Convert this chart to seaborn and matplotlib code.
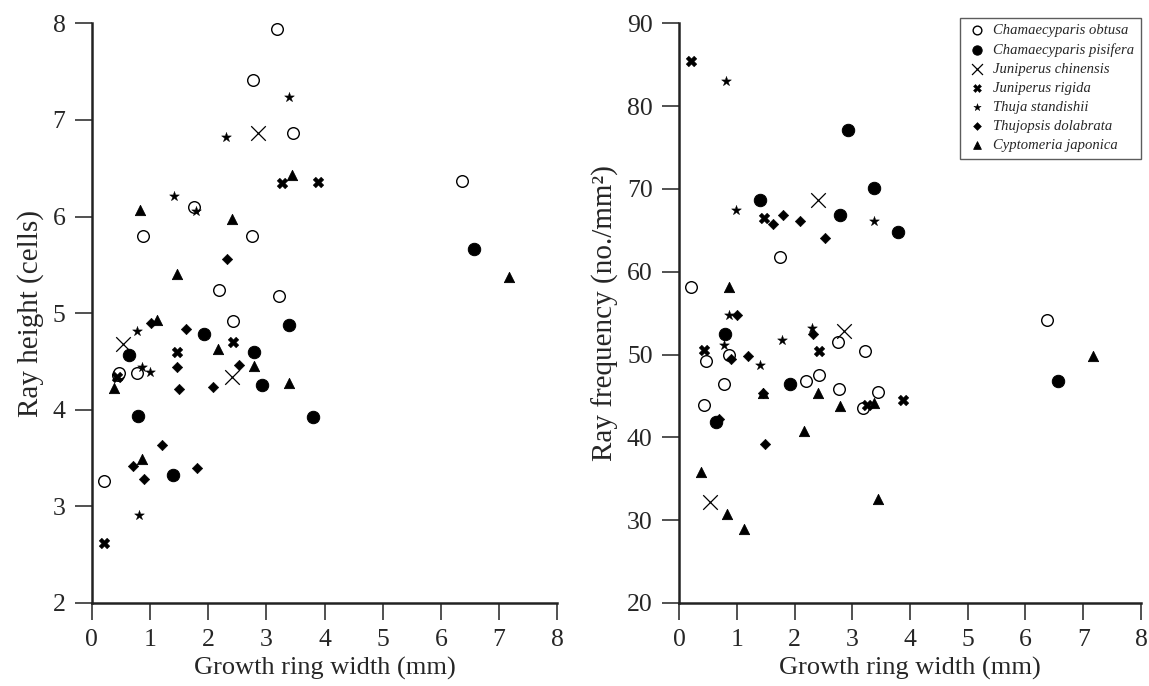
import pandas as pd
import seaborn as sns
import matplotlib.pyplot as plt

# Ray height / ray frequency vs growth ring width, by species
obtusa_width = [0.20, 0.44, 0.47, 0.78, 0.87, 1.75, 2.19, 2.42, 2.76, 2.77, 3.18, 3.22, 3.45, 6.37]
obtusa_height = [3.26, 4.36, 4.38, 4.38, 5.80, 6.10, 5.24, 4.92, 5.80, 7.41, 7.94, 5.18, 6.86, 6.37]
obtusa_freq = [58.2, 43.9, 49.2, 46.5, 50.0, 61.8, 46.8, 47.5, 51.5, 45.8, 43.6, 50.4, 45.5, 54.2]

pisifera_width = [0.64, 0.80, 1.40, 1.92, 2.78, 2.93, 3.38, 3.80, 6.57]
pisifera_height = [4.57, 3.94, 3.32, 4.78, 4.60, 4.26, 4.88, 3.92, 5.66]
pisifera_freq = [41.9, 52.5, 68.7, 46.5, 66.8, 77.1, 70.1, 64.8, 46.8]

chinensis_width = [0.54, 2.41, 2.86]
chinensis_height = [4.68, 4.34, 6.86]
chinensis_freq = [32.2, 68.7, 52.8]

rigida_width = [0.21, 0.43, 1.47, 2.43, 3.26, 3.88]
rigida_height = [2.62, 4.34, 4.60, 4.70, 6.35, 6.36]
rigida_freq = [85.4, 50.5, 66.5, 50.4, 43.9, 44.5]

standishii_width = [0.77, 0.81, 0.86, 0.99, 1.41, 1.79, 2.30, 3.38]
standishii_height = [4.82, 2.91, 4.44, 4.39, 6.21, 6.06, 6.82, 7.24]
standishii_freq = [51.1, 83.0, 54.8, 67.4, 48.8, 51.8, 53.2, 66.1]

dolabrata_width = [0.70, 0.90, 1.01, 1.20, 1.46, 1.49, 1.62, 1.80, 2.09, 2.32, 2.53]
dolabrata_height = [3.42, 3.28, 4.90, 3.64, 4.44, 4.22, 4.84, 3.40, 4.24, 5.56, 4.46]
dolabrata_freq = [42.2, 49.5, 54.8, 49.8, 45.3, 39.2, 65.8, 66.8, 66.1, 52.5, 64.1]

japonica_width = [0.38, 0.83, 0.86, 1.12, 1.46, 2.17, 2.40, 2.78, 3.38, 3.44, 7.17]
japonica_height = [4.23, 6.07, 3.49, 4.93, 5.41, 4.63, 5.97, 4.45, 4.28, 6.43, 5.37]
japonica_freq = [35.8, 30.8, 58.1, 28.9, 45.4, 40.8, 45.4, 43.8, 44.1, 32.5, 49.8]

species = [
    ("Chamaecyparis obtusa", obtusa_width, obtusa_height, obtusa_freq),
    ("Chamaecyparis pisifera", pisifera_width, pisifera_height, pisifera_freq),
    ("Juniperus chinensis", chinensis_width, chinensis_height, chinensis_freq),
    ("Juniperus rigida", rigida_width, rigida_height, rigida_freq),
    ("Thuja standishii", standishii_width, standishii_height, standishii_freq),
    ("Thujopsis dolabrata", dolabrata_width, dolabrata_height, dolabrata_freq),
    ("Cyptomeria japonica", japonica_width, japonica_height, japonica_freq),
]

rows = []
for name, w, h, f in species:
    for a, b, c in zip(w, h, f):
        rows.append({"Species": name, "Width": a, "Height": b, "Frequency": c})
df = pd.DataFrame(rows)

# marker style per species
styles = {
    "Chamaecyparis obtusa": dict(marker="o", s=70, facecolor="white", edgecolor="black", linewidth=1.0),
    "Chamaecyparis pisifera": dict(marker="o", s=80, color="black", edgecolor="black"),
    "Juniperus chinensis": dict(marker="x", s=110, color="black", linewidth=0.9),
    "Juniperus rigida": dict(marker="X", s=60, color="black", edgecolor="black", linewidth=0.3),
    "Thuja standishii": dict(marker="*", s=55, color="black", edgecolor="black", linewidth=0.3),
    "Thujopsis dolabrata": dict(marker="D", s=28, color="black", edgecolor="black"),
    "Cyptomeria japonica": dict(marker="^", s=55, color="black", edgecolor="black"),
}

sns.set_style("ticks")
plt.rcParams["font.family"] = ["Liberation Serif", "DejaVu Serif"]

fig = plt.figure(figsize=(11.49, 6.86), dpi=100)
ax1 = fig.add_axes([0.080, 0.121, 0.405, 0.845])
ax2 = fig.add_axes([0.591, 0.121, 0.402, 0.845])

for name, _, _, _ in species:
    sub = df[df["Species"] == name]
    sns.scatterplot(data=sub, x="Width", y="Height", ax=ax1, clip_on=False, **styles[name])
    sns.scatterplot(data=sub, x="Width", y="Frequency", ax=ax2, label=name,
                    clip_on=False, **styles[name])

# ------------------------------
# axes styling
for ax in (ax1, ax2):
    ax.set_xlim(0, 8)
    ax.set_xticks(range(0, 9))
    for side in ("top", "right"):
        ax.spines[side].set_visible(False)
    for side in ("left", "bottom"):
        ax.spines[side].set_linewidth(1.8)
        ax.spines[side].set_color("#222222")
    ax.tick_params(direction="out", length=12, width=1.1, labelsize=18.5, color="#222222", pad=7)
    ax.set_xlabel("Growth ring width (mm)", fontsize=19, labelpad=4)

ax1.set_ylim(2, 8)
ax1.set_yticks(range(2, 9))
ax1.set_ylabel("Ray height (cells)", fontsize=21, labelpad=6)

ax2.set_ylim(20, 90)
ax2.set_yticks(range(20, 91, 10))
ax2.set_ylabel("Ray frequency (no./mm²)", fontsize=21, labelpad=6)

leg = ax2.legend(loc="upper right", bbox_to_anchor=(1.0, 1.01), frameon=True, fancybox=False,
                 prop={"family": "Liberation Serif", "style": "italic", "size": 10.5},
                 labelspacing=0.4, handletextpad=0.4, handlelength=1.4, borderpad=0.45,
                 borderaxespad=0.0, markerscale=0.75)
leg.get_frame().set_edgecolor("#333333")
leg.get_frame().set_linewidth(1.0)

plt.savefig("out.png", dpi=100)
